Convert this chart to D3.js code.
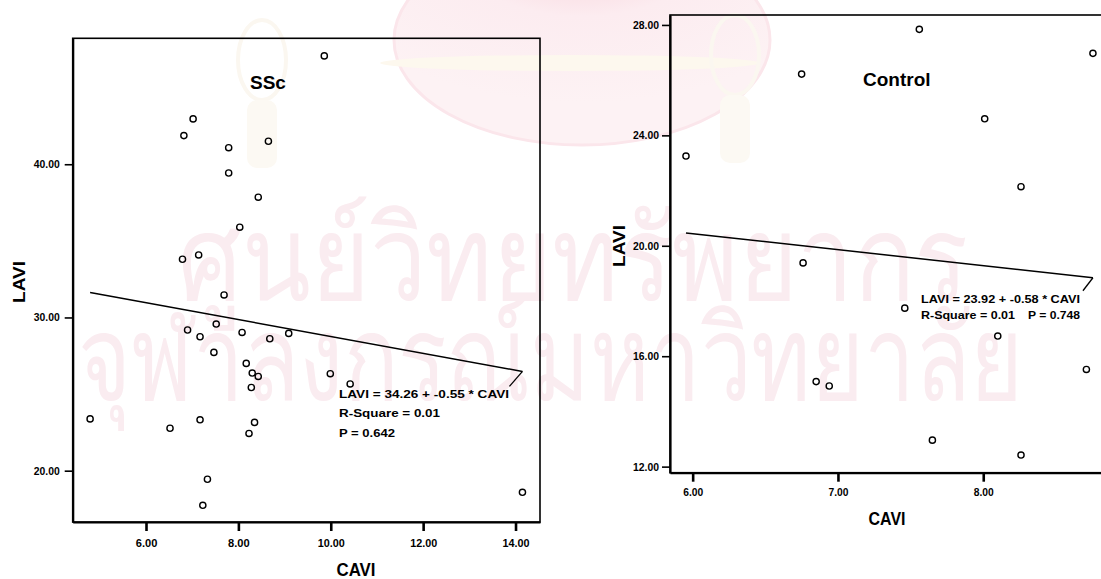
<!DOCTYPE html>
<html>
<head>
<meta charset="utf-8">
<script src="https://cdn.jsdelivr.net/npm/d3@7"></script>
<style>
  body { margin: 0; background: #fff; }
  svg { display: block; font-family: "Liberation Sans", Arial, sans-serif; }
</style>
</head>
<body>
<svg width="1101" height="579"></svg>
<script>
// SSc group
var sscCavi = [9.86, 7.02, 6.82, 7.79, 8.65, 7.79, 8.43, 8.03, 7.14, 6.79,
               7.69, 7.52, 6.90, 7.17, 8.08, 8.68, 9.09, 7.47, 8.17, 8.30,
               8.43, 8.28, 9.99, 10.42, 4.79, 6.52, 7.17, 8.35, 8.23, 7.33,
               7.23, 14.15];
var sscLavi = [47.07, 42.96, 41.87, 41.08, 41.50, 39.43, 37.85, 35.89, 34.08, 33.80,
               31.47, 29.57, 29.18, 28.74, 29.02, 28.61, 28.96, 27.72, 27.00, 26.37,
               26.15, 25.43, 26.33, 25.66, 23.38, 22.77, 23.32, 23.15, 22.43, 19.44,
               17.74, 18.59];
var sscFit = [34.26, -0.55];
var sscNotes = ["LAVI = 34.26 + -0.55 * CAVI", "R-Square = 0.01", "P = 0.642"];
var sscXTicks = [6, 8, 10, 12, 14];
var sscYTicks = [20, 30, 40];

// Control group
var ctlCavi = [7.56, 8.755, 6.75, 8.01, 5.954, 8.26, 6.76, 7.46, 8.10, 8.71, 6.85, 6.94, 7.65, 8.26];
var ctlLavi = [27.84, 26.97, 26.22, 24.60, 23.25, 22.14, 19.38, 17.74, 16.73, 15.52, 15.08, 14.92, 12.96, 12.42];
var ctlFit = [23.92, -0.58];
var ctlNotes = ["LAVI = 23.92 + -0.58 * CAVI", "R-Square = 0.01", "P = 0.748"];
var ctlXTicks = [6, 7, 8];
var ctlYTicks = [12, 16, 20, 24, 28];

var svg = d3.select('svg');
var defs = svg.append('defs');

// faint watermark of the scanned page
var grad = defs.append('radialGradient').attr('id', 'pinkGlow')
    .attr('cx', '50%').attr('cy', '5%').attr('r', '75%');
grad.append('stop').attr('offset', '0%').attr('stop-color', '#f7cdd5');
grad.append('stop').attr('offset', '45%').attr('stop-color', '#fcecf0');
grad.append('stop').attr('offset', '100%').attr('stop-color', '#fdf2f4');

var wm = svg.append('g').attr('class', 'watermark');
wm.append('ellipse').attr('cx', 582).attr('cy', 40).attr('rx', 188).attr('ry', 105)
    .attr('fill', 'url(#pinkGlow)').attr('stroke', '#fbe6eb').attr('stroke-width', 3);
wm.append('ellipse').attr('cx', 570).attr('cy', 63).attr('rx', 190).attr('ry', 8)
    .attr('fill', '#fdf8ee');
// crest tassels
[[262, 60], [735, 55]].forEach(function(c) {
  wm.append('ellipse').attr('cx', c[0]).attr('cy', c[1]).attr('rx', 24).attr('ry', 40)
      .attr('fill', 'none').attr('stroke', '#fbf7f0').attr('stroke-width', 4);
  wm.append('rect').attr('x', c[0] - 15).attr('y', c[1] + 40).attr('width', 30).attr('height', 68)
      .attr('rx', 10).attr('fill', '#fcf9f3');
});
wm.selectAll('.thai')
    .data(['ศูนย์วิทยทรัพยากร', 'จุฬาลงกรณ์มหาวิทยาลัย'])
    .enter().append('text')
    .attr('class', 'thai')
    .text(function(d) { return d; })
    .attr('x', function(d, i) { return i ? 78 : 178; })
    .attr('y', function(d, i) { return i ? 400 : 300; })
    .attr('textLength', function(d, i) { return i ? 945 : 790; })
    .attr('lengthAdjust', 'spacingAndGlyphs')
    .attr('font-size', 118).attr('fill', '#faecf0');

var condense = function(sel, perChar) {
  sel.each(function() {
    var t = d3.select(this);
    t.attr('textLength', t.text().length * perChar).attr('lengthAdjust', 'spacingAndGlyphs');
  });
}

var drawPanel = function(p) {
  var x = d3.scaleLinear().domain(p.xDomain).range(p.xRange);
  var y = d3.scaleLinear().domain(p.yDomain).range(p.yRange);
  var g = svg.append('g');

  // frame
  g.append('rect')
      .attr('x', p.xRange[0]).attr('y', p.yRange[1])
      .attr('width', p.xRange[1] - p.xRange[0]).attr('height', p.yRange[0] - p.yRange[1])
      .attr('fill', 'none').attr('stroke', '#000').attr('stroke-width', 1.6);

  var yAxis = g.append('g')
      .attr('transform', 'translate(' + p.xRange[0] + ',0)')
      .call(d3.axisLeft(y).tickValues(p.yTicks).tickSize(8).tickSizeOuter(0)
        .tickPadding(p.yPad).tickFormat(d3.format('.2f')));
  yAxis.select('.domain').attr('stroke-width', 2.2);
  yAxis.selectAll('.tick line').attr('stroke-width', 1.6);
  yAxis.selectAll('text').attr('font-size', 10.5).attr('font-weight', 'bold')
      .attr('font-family', '"Liberation Sans", Arial, sans-serif').call(condense, 5.2);

  var xAxis = g.append('g')
      .attr('transform', 'translate(0,' + p.yRange[0] + ')')
      .call(d3.axisBottom(x).tickValues(p.xTicks).tickSize(9).tickSizeOuter(0)
        .tickPadding(p.xPad).tickFormat(d3.format('.2f')));
  xAxis.select('.domain').attr('stroke-width', 2.2);
  xAxis.selectAll('.tick line').attr('stroke-width', 2.6);
  xAxis.selectAll('text').attr('font-size', 10.5).attr('font-weight', 'bold')
      .attr('font-family', '"Liberation Sans", Arial, sans-serif').call(condense, p.xChar);

  // fitted line over the observed CAVI range
  var ext = d3.extent(p.cavi);
  var fit = function(v) { return p.fit[0] + p.fit[1] * v; };
  g.append('line')
      .attr('x1', x(ext[0])).attr('y1', y(fit(ext[0])))
      .attr('x2', x(ext[1])).attr('y2', y(fit(ext[1])))
      .attr('stroke', '#000').attr('stroke-width', 1.5);
  g.append('line')
      .attr('x1', x(ext[1])).attr('y1', y(fit(ext[1])))
      .attr('x2', x(ext[1]) + p.lead[0]).attr('y2', y(fit(ext[1])) + p.lead[1])
      .attr('stroke', '#000').attr('stroke-width', 1.3);

  g.selectAll('.dot')
      .data(d3.range(p.cavi.length))
      .enter().append('circle')
      .attr('class', 'dot')
      .attr('cx', function(i) { return x(p.cavi[i]); })
      .attr('cy', function(i) { return y(p.lavi[i]); })
      .attr('r', 3.1)
      .attr('fill', 'none').attr('stroke', '#000').attr('stroke-width', 1.4);

  g.append('text').text(p.title)
      .attr('x', p.titlePos[0]).attr('y', p.titlePos[1])
      .attr('font-size', 19).attr('font-weight', 'bold');

  g.selectAll('.note')
      .data(p.notes)
      .enter().append('text')
      .attr('class', 'note')
      .text(function(d) { return d; })
      .attr('x', function(d, i) { return p.notePos[i][0]; })
      .attr('y', function(d, i) { return p.notePos[i][1]; })
      .attr('textLength', function(d, i) { return p.notePos[i][2]; })
      .attr('lengthAdjust', 'spacingAndGlyphs')
      .attr('font-size', 11.5).attr('font-weight', 'bold');

  g.append('text').text('CAVI')
      .attr('x', p.xLabel[0]).attr('y', p.xLabel[1])
      .attr('text-anchor', 'middle')
      .attr('textLength', p.xLabel[2]).attr('lengthAdjust', 'spacingAndGlyphs')
      .attr('font-size', 17.5).attr('font-weight', 'bold');

  g.append('text').text('LAVI')
      .attr('transform', 'translate(' + p.yLabel[0] + ',' + p.yLabel[1] + ') rotate(-90)')
      .attr('text-anchor', 'middle')
      .attr('textLength', p.yLabel[2]).attr('lengthAdjust', 'spacingAndGlyphs')
      .attr('font-size', 17).attr('font-weight', 'bold');
}

drawPanel({
  cavi: sscCavi, lavi: sscLavi, fit: sscFit, notes: sscNotes,
  xTicks: sscXTicks, yTicks: sscYTicks,
  xDomain: [4.413, 14.53], yDomain: [16.65, 48.22],
  xRange: [72.7, 540], yRange: [522, 38.3],
  xPad: 9, yPad: 5, xChar: 5.4,
  lead: [-13, 15],
  title: 'SSc', titlePos: [250, 89],
  notePos: [[339, 398, 170], [339, 417, 101], [339, 437, 56]],
  xLabel: [356, 576, 39], yLabel: [25, 282, 42]
});

drawPanel({
  cavi: ctlCavi, lavi: ctlLavi, fit: ctlFit, notes: ctlNotes,
  xTicks: ctlXTicks, yTicks: ctlYTicks,
  xDomain: [5.844, 8.9], yDomain: [11.78, 28.36],
  xRange: [670, 1114], yRange: [472.7, 15],
  xPad: 7, yPad: 3, xChar: 5.0,
  lead: [-10, 13],
  title: 'Control', titlePos: [863, 86],
  notePos: [[921, 303, 159], [921, 319, 94], [1028, 319, 52]],
  xLabel: [887, 525, 37], yLabel: [625, 246, 42]
});
</script>
</body>
</html>
